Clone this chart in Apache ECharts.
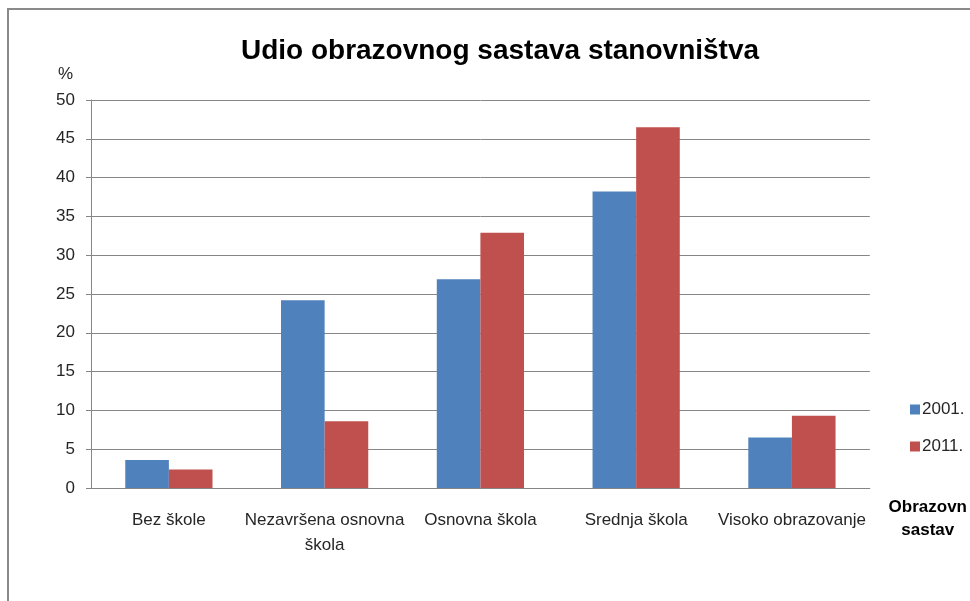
<!DOCTYPE html>
<html>
<head>
<meta charset="utf-8">
<script src="https://cdn.jsdelivr.net/npm/echarts@6/dist/echarts.min.js"></script>
<style>
  html, body { margin: 0; padding: 0; background: #fff; }
  #chart { width: 970px; height: 601px; }
</style>
</head>
<body>
<div id="chart"></div>
<script>
const titleText = 'Udio obrazovnog sastava stanovništva';
const categories = ['Bez škole', 'Nezavršena osnovna\nškola', 'Osnovna škola', 'Srednja škola', 'Visoko obrazovanje'];
const seriesNames = ['2001.', '2011.'];
const values2001 = [3.6, 24.2, 26.9, 38.2, 6.5];
const values2011 = [2.4, 8.6, 32.9, 46.5, 9.3];
const yTicks = { min: 0, max: 50, interval: 5 };
const yAxisName = '%';
const xAxisName = 'Obrazovn\nsastav';

const FONT = "'Liberation Sans Narrow', 'Liberation Sans', sans-serif";
const TXT = '#262626';
const GRID = '#868686';

const chart = echarts.init(document.getElementById('chart'));
chart.setOption({
  animation: false,
  backgroundColor: '#fff',
  textStyle: { fontFamily: FONT },
  title: {
    text: titleText,
    left: 495, top: 32,
    textAlign: 'center',
    textStyle: { fontFamily: FONT, fontSize: 28, fontWeight: 'bold', color: '#000' }
  },
  legend: {
    orient: 'vertical',
    left: 905, top: 396,
    icon: 'rect',
    itemWidth: 10, itemHeight: 10,
    itemGap: 20,
    textStyle: { fontFamily: FONT, fontSize: 17, color: TXT, padding: [0, 0, 0, -3] },
    data: seriesNames
  },
  grid: { left: 91, right: 90, top: 100, bottom: 113, containLabel: false },
  xAxis: {
    type: 'category',
    data: categories,
    name: xAxisName,
    nameLocation: 'end',
    nameGap: 58,
    nameTextStyle: { fontFamily: FONT, fontSize: 17, fontWeight: 'bold', color: '#000', align: 'center', verticalAlign: 'top', lineHeight: 23, padding: [8, 0, 0, 0] },
    axisLine: { lineStyle: { color: GRID, width: 1 } },
    axisTick: { show: false },
    axisLabel: { fontFamily: FONT, fontSize: 17, color: TXT, margin: 20, lineHeight: 25, interval: 0 }
  },
  yAxis: {
    type: 'value',
    min: yTicks.min, max: yTicks.max, interval: yTicks.interval,
    name: yAxisName,
    nameLocation: 'end',
    nameGap: 17,
    nameTextStyle: { fontFamily: FONT, fontSize: 17, color: TXT, align: 'right', padding: [0, 18, 0, 0] },
    axisLine: { show: true, lineStyle: { color: GRID, width: 1 } },
    axisTick: { show: true, length: 5, lineStyle: { color: GRID } },
    axisLabel: { fontFamily: FONT, fontSize: 17, color: TXT, margin: 16 },
    splitLine: { show: true, lineStyle: { color: GRID, width: 1 } }
  },
  series: [
    { name: seriesNames[0], type: 'bar', data: values2001, barGap: '0%', barCategoryGap: '44%',
      itemStyle: { color: '#4F81BD' } },
    { name: seriesNames[1], type: 'bar', data: values2011, barGap: '0%', barCategoryGap: '44%',
      itemStyle: { color: '#C0504D' } }
  ],
  graphic: [
    { type: 'polyline', shape: { points: [[8, 601], [8, 9], [970, 9]] }, style: { stroke: '#8a8a8a', lineWidth: 2, fill: null }, silent: true }
  ]
});
</script>
</body>
</html>
